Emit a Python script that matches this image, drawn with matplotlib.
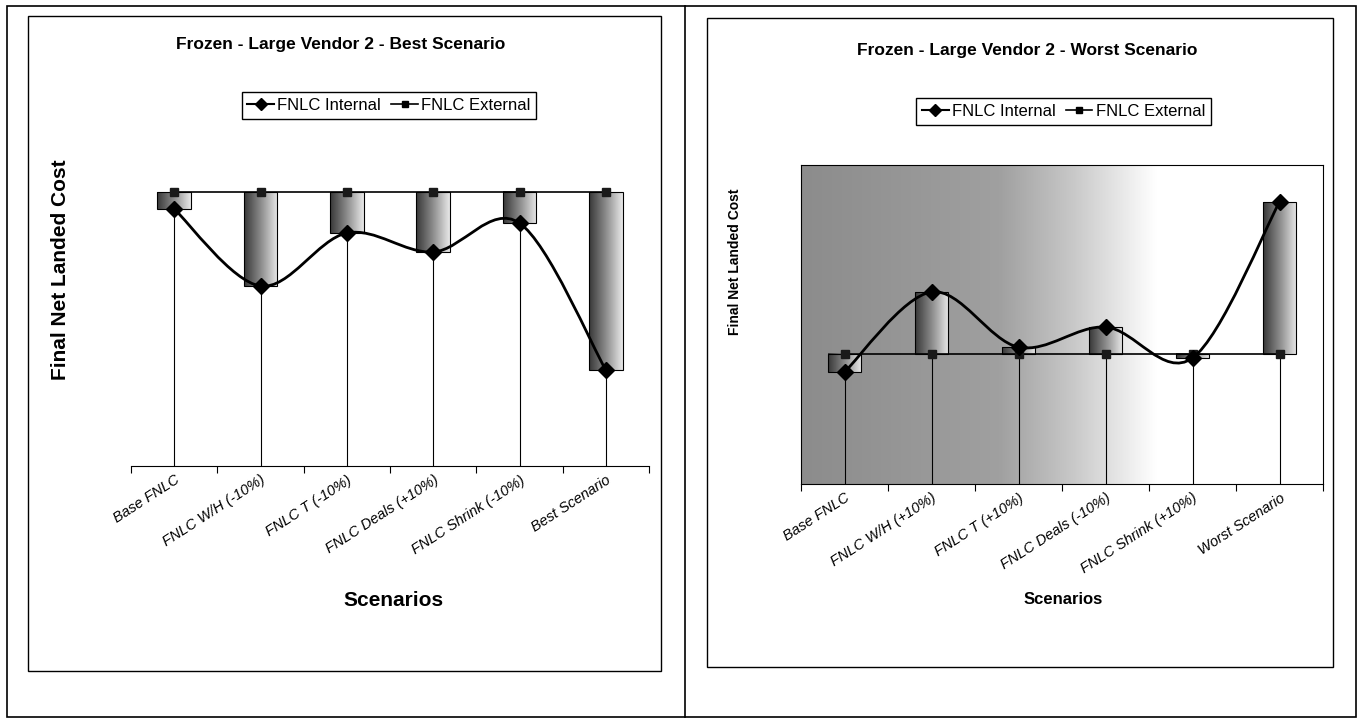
import numpy as np
import matplotlib
matplotlib.use("Agg")
import matplotlib.pyplot as plt
from matplotlib.path import Path
from matplotlib.patches import PathPatch, Rectangle
from matplotlib.lines import Line2D
from matplotlib.colors import LinearSegmentedColormap

# ---- data (arbitrary cost units) ----
best_labels = ["Base FNLC", "FNLC W/H (-10%)", "FNLC T (-10%)",
               "FNLC Deals (+10%)", "FNLC Shrink (-10%)", "Best Scenario"]
best_external = [91.0, 91.0, 91.0, 91.0, 91.0, 91.0]
best_internal = [85.4, 59.8, 77.4, 71.1, 80.7, 31.9]

worst_labels = ["Base FNLC", "FNLC W/H (+10%)", "FNLC T (+10%)",
                "FNLC Deals (-10%)", "FNLC Shrink (+10%)", "Worst Scenario"]
worst_external = [40.8, 40.8, 40.8, 40.8, 40.8, 40.8]
worst_internal = [35.1, 60.2, 42.9, 49.2, 39.5, 88.4]

series_names = ["FNLC Internal", "FNLC External"]

W, H = 1359, 719
NARROW = ["Liberation Sans Narrow", "Liberation Sans", "DejaVu Sans"]
ARIAL = ["Liberation Sans", "DejaVu Sans"]

bar_cmap = LinearSegmentedColormap.from_list("bar", ["#383838", "#8c8c8c", "#e8e8e8"])
bg_cmap = LinearSegmentedColormap.from_list(
    "bg", [(0.0, "#8c8c8c"), (0.38, "#a0a0a0"), (0.52, "#c8c8c8"),
           (0.68, "#ffffff"), (1.0, "#ffffff")])


def smooth_path(xs, ys):
    # Catmull-Rom style smoothing like the spreadsheet "smoothed line"
    pts = np.column_stack([xs, ys]).astype(float)
    n = len(pts)
    verts = [pts[0]]
    codes = [Path.MOVETO]
    for i in range(n - 1):
        p0 = pts[i - 1] if i > 0 else pts[i]
        p1, p2 = pts[i], pts[i + 1]
        p3 = pts[i + 2] if i + 2 < n else pts[i + 1]
        verts += [p1 + (p2 - p0) / 6, p2 - (p3 - p1) / 6, p2]
        codes += [Path.CURVE4] * 3
    return Path(verts, codes)


def draw_panel(ax, labels, external, internal, shaded):
    x = np.arange(len(labels))
    ext = np.array(external)
    inn = np.array(internal)

    if shaded:
        grad = np.linspace(0, 1, 256).reshape(1, -1)
        ax.imshow(grad, cmap=bg_cmap, extent=(-0.5, 5.5, 0, 100),
                  aspect="auto", zorder=0)

    # drop lines
    ax.vlines(x, 0, np.maximum(ext, inn), color="black", lw=0.8, zorder=1.5)

    # up/down bars with gradient fill
    bars = ax.bar(x, inn - ext, bottom=ext, width=0.39, facecolor="none",
                  edgecolor="black", lw=0.8, zorder=3)
    grad = np.linspace(0, 1, 64).reshape(1, -1)
    for b in bars:
        x0, y0, w, h = b.get_x(), b.get_y(), b.get_width(), b.get_height()
        ax.imshow(grad, cmap=bar_cmap, extent=(x0, x0 + w, min(y0, y0 + h), max(y0, y0 + h)),
                  aspect="auto", zorder=2.5)

    # series
    ax.plot(x, ext, color="black", lw=1.2, marker="s", ms=5.5, mfc="#1a1a1a",
            mec="#1a1a1a", zorder=4)
    ax.add_patch(PathPatch(smooth_path(x, inn), fill=False, ec="black", lw=2, zorder=4))
    ax.plot(x, inn, ls="none", marker="D", ms=8, color="black", zorder=5)

    ax.set_xlim(-0.5, 5.5)
    ax.set_ylim(0, 100)
    ax.set_yticks([])
    ax.set_xticks(np.arange(-0.5, 6, 1))
    ax.set_xticklabels([])
    ax.tick_params(axis="x", which="major", direction="out", length=5, width=0.8)
    ax.set_xticks(x, minor=True)
    ax.set_xticklabels(labels, minor=True, rotation=33, ha="right",
                       rotation_mode="anchor", fontsize=10.5, style="italic",
                       family=ARIAL)
    ax.tick_params(axis="x", which="minor", length=0, pad=5)
    ax.set_facecolor("none")


fig = plt.figure(figsize=(W / 100, H / 100), dpi=100)

ax1 = fig.add_axes([131 / W, 1 - 466 / H, (649 - 131) / W, (466 - 165) / H])
draw_panel(ax1, best_labels, best_external, best_internal, shaded=False)
for s in ["left", "top", "right"]:
    ax1.spines[s].set_visible(False)
ax1.spines["bottom"].set_linewidth(0.8)

ax2 = fig.add_axes([801 / W, 1 - 484 / H, (1323 - 801) / W, (484 - 165) / H])
draw_panel(ax2, worst_labels, worst_external, worst_internal, shaded=True)
for s in ax2.spines.values():
    s.set_linewidth(0.8)

# titles, axis titles
fig.text(341 / W, 1 - 45 / H, "Frozen - Large Vendor 2 - Best Scenario",
         ha="center", va="center", fontsize=12.5, weight="bold", family=NARROW)
fig.text(1027 / W, 1 - 50 / H, "Frozen - Large Vendor 2 - Worst Scenario",
         ha="center", va="center", fontsize=12.5, weight="bold", family=NARROW)
fig.text(60 / W, 1 - 270 / H, "Final Net Landed Cost", rotation=90,
         ha="center", va="center", fontsize=15, weight="bold", family=ARIAL)
fig.text(735 / W, 1 - 262 / H, "Final Net Landed Cost", rotation=90,
         ha="center", va="center", fontsize=10, weight="bold", family=ARIAL)
fig.text(393 / W, 1 - 600 / H, "Scenarios", ha="center", va="center",
         fontsize=15, weight="bold", family=NARROW)
fig.text(1063 / W, 1 - 600 / H, "Scenarios", ha="center", va="center",
         fontsize=12, weight="bold", family=NARROW)

# legends
handles = [Line2D([], [], color="black", lw=1.5, marker="D", ms=6),
           Line2D([], [], color="black", lw=1.2, marker="s", ms=4.5)]
for cx, cy in [(389, 105.5), (1063.5, 111.5)]:
    leg = fig.legend(handles, series_names, loc="center",
                     bbox_to_anchor=(cx / W, 1 - cy / H), ncol=2,
                     fancybox=False, edgecolor="black", framealpha=1,
                     handlelength=1.6, handletextpad=0.2, columnspacing=0.6,
                     borderpad=0.35, prop={"family": NARROW, "size": 12})
    leg.get_frame().set_linewidth(1)

# frames around the two chart objects
fig.add_artist(Rectangle((7 / W, 1 - 717 / H), (1356 - 7) / W, (717 - 6) / H,
                         transform=fig.transFigure, fill=False, ec="black", lw=1.2))
fig.add_artist(Line2D([685 / W, 685 / W], [1 - 717 / H, 1 - 6 / H],
                      transform=fig.transFigure, color="black", lw=1.2))
fig.add_artist(Rectangle((28 / W, 1 - 671 / H), (661 - 28) / W, (671 - 16) / H,
                         transform=fig.transFigure, fill=False, ec="black", lw=1.0))
fig.add_artist(Rectangle((707 / W, 1 - 667 / H), (1333 - 707) / W, (667 - 18) / H,
                         transform=fig.transFigure, fill=False, ec="black", lw=1.0))

fig.savefig("out.png", dpi=100)
